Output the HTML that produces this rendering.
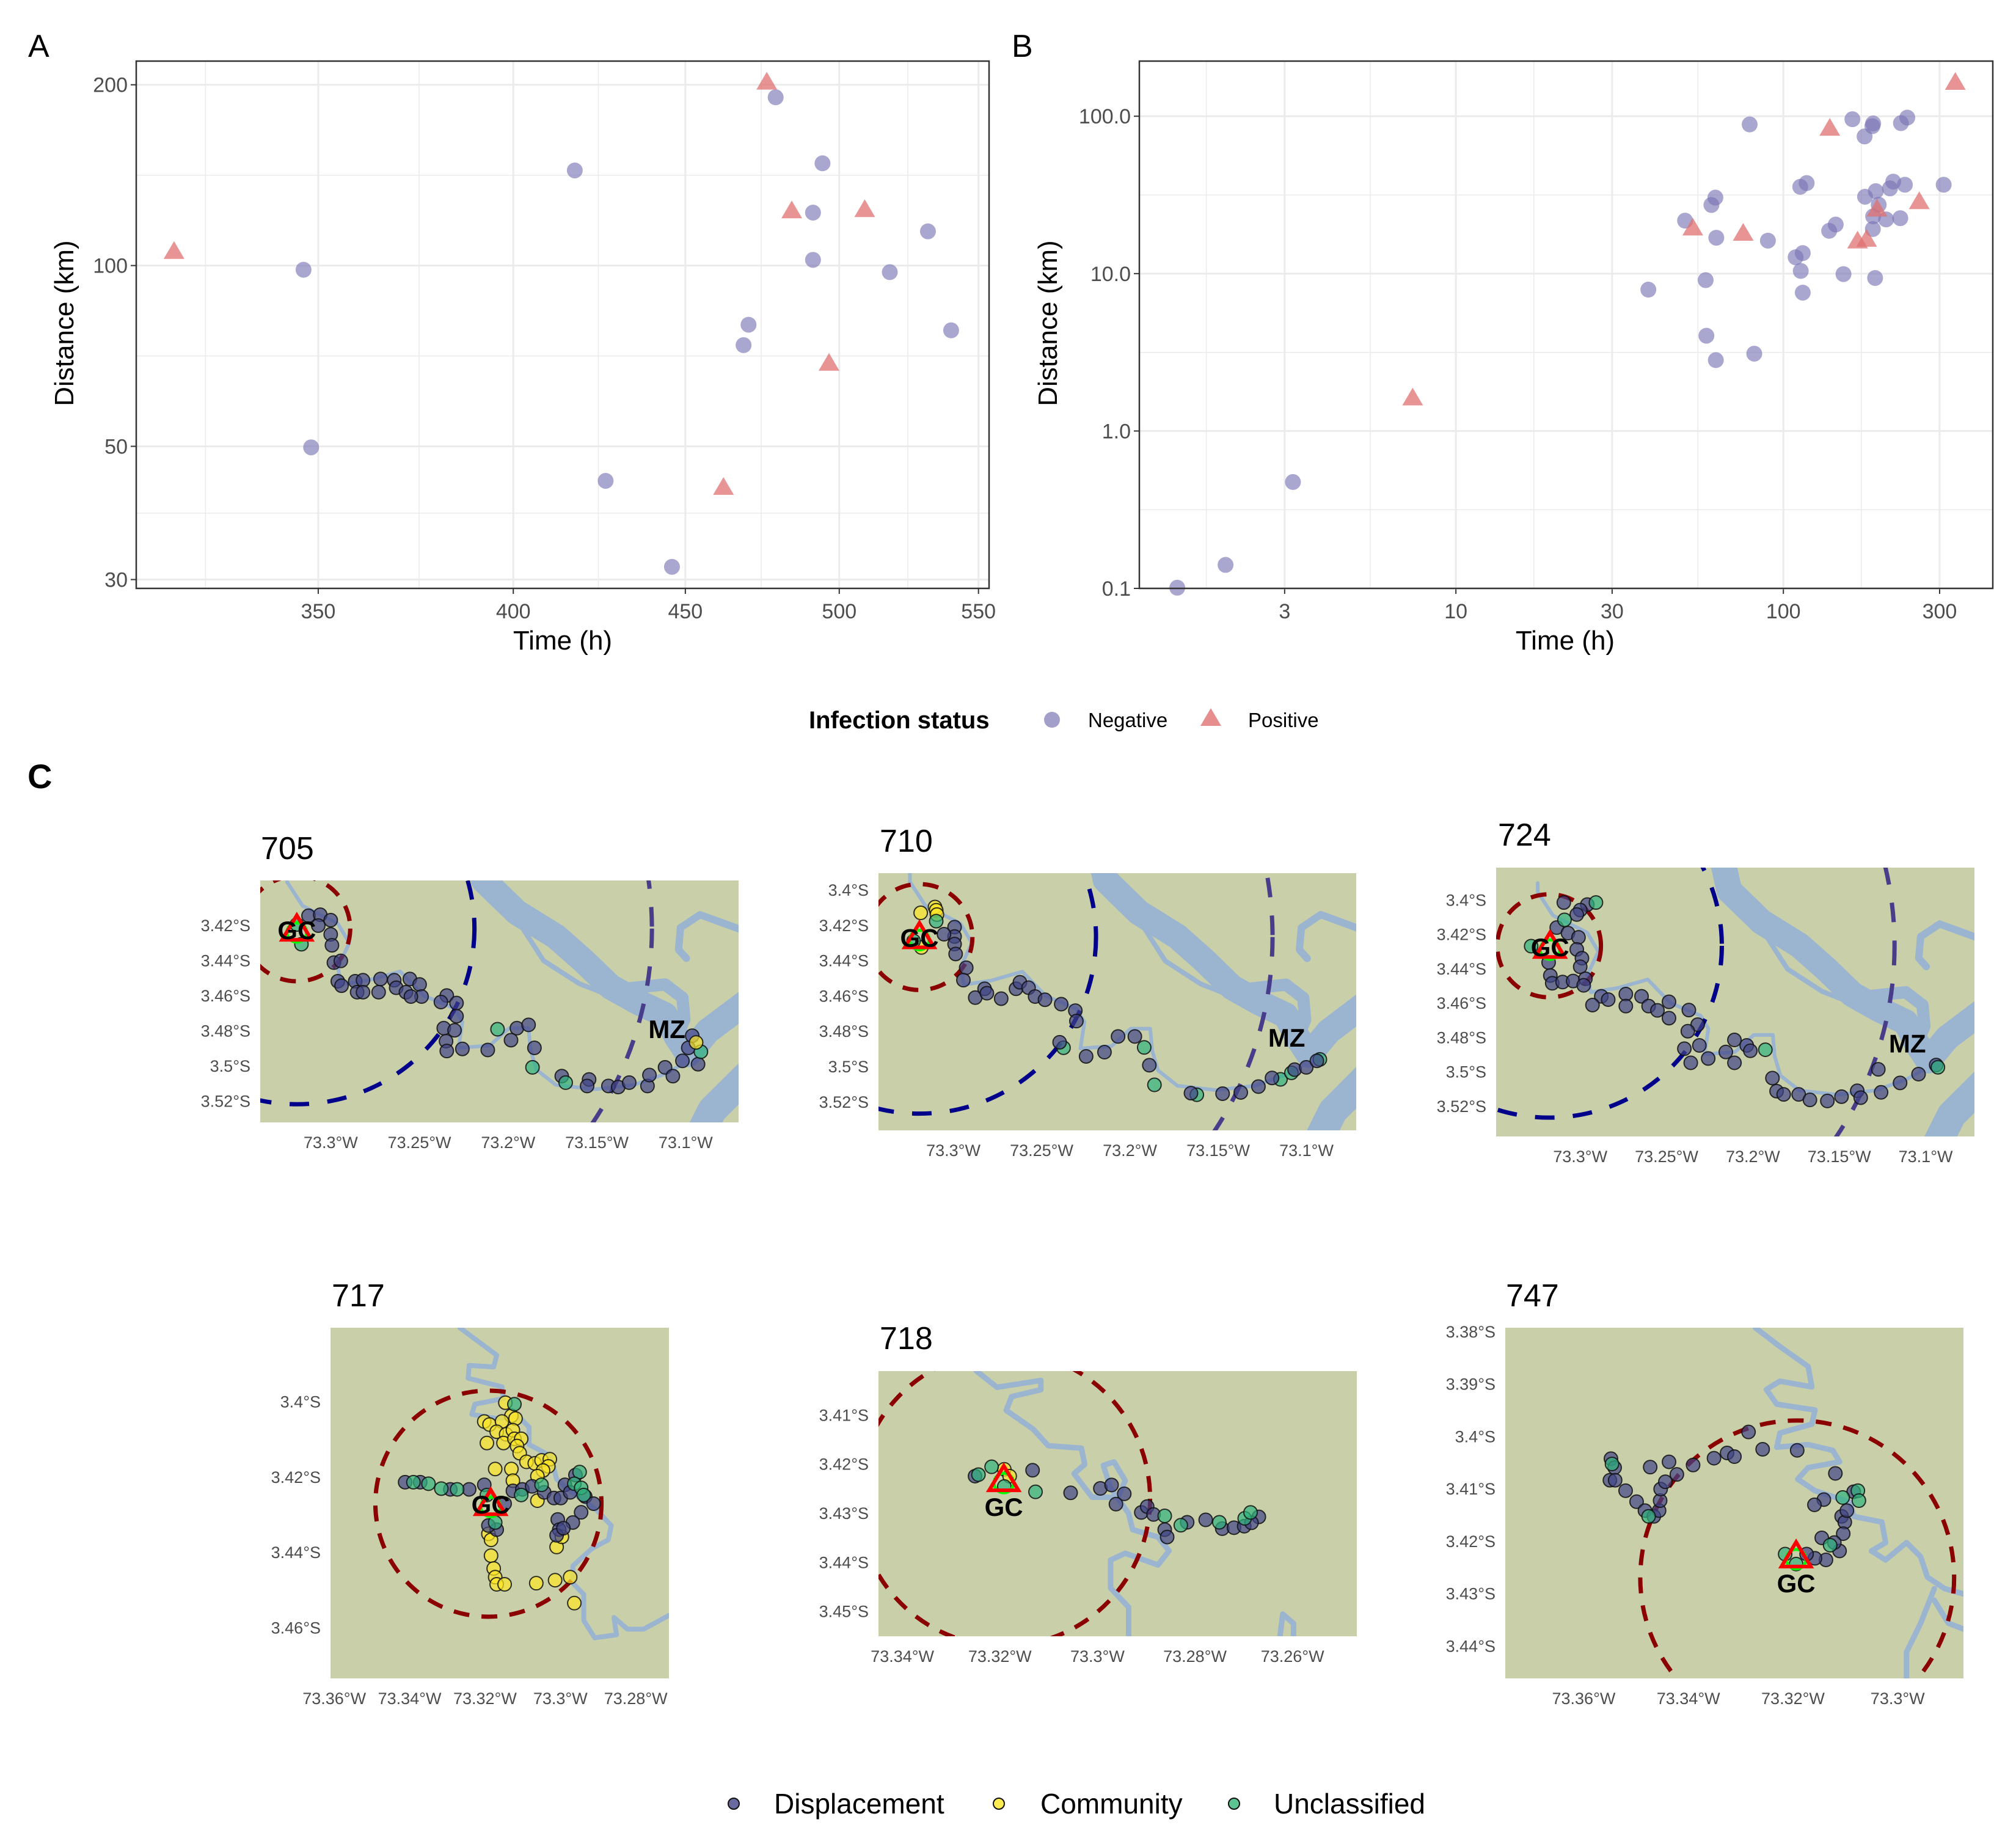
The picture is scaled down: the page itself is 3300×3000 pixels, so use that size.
<!DOCTYPE html>
<html><head><meta charset="utf-8"><title>Mobility and infection figure</title>
<style>body{margin:0;background:#fff}svg{display:block}text{font-family:"Liberation Sans",Arial,sans-serif}</style></head>
<body>
<svg id="fig" xmlns="http://www.w3.org/2000/svg" width="3300" height="3000" viewBox="0 0 3300 3000">
<rect x="0" y="0" width="3300" height="3000" fill="#fff"/>
<text x="46" y="93" font-size="52">A</text>
<text x="1656" y="93" font-size="52">B</text>
<text x="921" y="1063" font-size="44" text-anchor="middle">Time (h)</text>
<text x="2562" y="1063" font-size="44" text-anchor="middle">Time (h)</text>
<text transform="translate(120,529) rotate(-90)" font-size="44" text-anchor="middle">Distance (km)</text>
<text transform="translate(1730,529) rotate(-90)" font-size="44" text-anchor="middle">Distance (km)</text>
<g>
<text x="1324" y="1192" font-size="40" font-weight="bold">Infection status</text>
<circle cx="1722" cy="1178" r="13" fill="#7b77b5" fill-opacity="0.7"/>
<text x="1781" y="1190" font-size="33">Negative</text>
<polygon points="1982,1159 1965,1188 1999,1188" fill="#e07070" fill-opacity="0.8"/>
<text x="2043" y="1190" font-size="33">Positive</text>
</g>
<text x="45" y="1290" font-size="56" font-weight="bold">C</text>
<text x="427" y="1406" font-size="52">705</text>
<text x="1440" y="1394" font-size="52">710</text>
<text x="2452" y="1384" font-size="52">724</text>
<text x="543" y="2138" font-size="52">717</text>
<text x="1440" y="2208" font-size="52">718</text>
<text x="2465" y="2138" font-size="52">747</text>
<g>
<circle cx="1201" cy="2952" r="9" fill="#414487" stroke="#111" stroke-width="2" fill-opacity="0.8"/>
<text x="1267" y="2968" font-size="46">Displacement</text>
<circle cx="1635" cy="2952" r="9" fill="#fde725" stroke="#111" stroke-width="2" fill-opacity="0.8"/>
<text x="1703" y="2968" font-size="46">Community</text>
<circle cx="2020" cy="2952" r="9" fill="#35b779" stroke="#111" stroke-width="2" fill-opacity="0.8"/>
<text x="2085" y="2968" font-size="46">Unclassified</text>
</g>
</svg>
<script>
// ---------- Panel A data ----------
const aNegTime=[346.5,348.3,417.2,426.1,445.9,468.3,469.9,478.7,491.1,491.1,494.3,517.6,531.3,539.8];
const aNegDist=[98.4,49.8,144,43.8,31.5,73.7,79.7,190.6,122.5,102.2,148,97.5,114,78];
const aPosTime=[317.1,475.8,461.9,484,496.5,508.8];
const aPosDist=[105,201,42.5,122.7,68.4,123.3];
const aXTicks=[350,400,450,500,550];
const aXTickLabels=["350","400","450","500","550"];
const aYTicks=[30,50,100,200];
const aYTickLabels=["30","50","100","200"];
const aXMinor=[324,375,424,474,524];
const aYMinor=[38.7,70.7,141.4];
// ---------- Panel B data ----------
const bNegTime=[1.41,1.98,3.18,38.7,50.1,57.9,58.2,60.3,62.0,62.4,62.2,78.9,81.5,89.7,109,114.6,113,114.6,112.6,117.8,138,144.5,152.6,162.5,177,177.6,187,188,187.6,188,191.5,190.6,195.5,205.9,211.6,216.5,227.5,228.6,235,239,308.7];
const bNegDist=[0.101,0.141,0.474,7.91,21.7,9.09,4.03,27.3,30.4,16.9,2.82,88.7,3.10,16.2,12.7,13.5,10.4,7.57,35.6,37.6,18.7,20.5,9.93,95.7,74.4,30.8,86.5,90,19.2,23.1,33.4,9.38,27.4,22.1,34.8,38.4,22.5,90.4,36.7,98,36.7];
const bPosTime=[7.38,52.9,75.4,138.6,168.5,179.6,193.2,260,335];
const bPosDist=[1.59,19.1,17.7,82.2,15.8,16.2,25.2,28.1,161];
const bXTicks=[3,10,30,100,300];
const bXTickLabels=["3","10","30","100","300"];
const bYTicks=[0.1,1,10,100];
const bYTickLabels=["0.1","1.0","10.0","100.0"];
const bXMinor=[1.73,5.48,17.3,54.8,173];
const bYMinor=[0.316,3.16,31.6];
// ---------- Panel C data (lon °W, lat °S, class D/C/U) ----------
const pts705Lon=[73.3125,73.3059,73.3,73.3070,73.3,73.2993,73.2982,73.2943,73.2960,73.2939,73.2862,73.2818,73.2851,73.2818,73.2730,73.2719,73.2642,73.2631,73.2576,73.2554,73.2499,73.2488,73.2548,73.2346,73.2379,73.2291,73.2291,73.2363,73.2302,73.2350,73.2346,73.2258,73.2115,73.1951,73.1885,73.1984,73.1852,73.1698,73.1544,73.1555,73.1435,73.1380,73.1318,73.1215,73.1204,73.1116,73.1072,73.1018,73.0930,73.0985,73.0963,73.3165,73.2060,73.1863,73.1676,73.0914,73.3191,73.0941];
const pts705Lat=[3.4144,3.4138,3.4169,3.42,3.4250,3.4312,3.4411,3.4401,3.4517,3.4542,3.4517,3.4511,3.4579,3.4579,3.4579,3.4504,3.4511,3.4554,3.4579,3.4504,3.4535,3.4604,3.4604,3.4598,3.4635,3.4641,3.4716,3.4784,3.4796,3.4858,3.4914,3.4902,3.4908,3.4784,3.4765,3.4852,3.4896,3.5057,3.5076,3.5113,3.5113,3.5119,3.5094,3.5113,3.5051,3.5007,3.5057,3.4970,3.4989,3.4896,3.4827,3.4306,3.4790,3.5007,3.5094,3.4918,3.4194,3.4865];
const pts705Cls="DDDDDDDDDDDDDDDDDDDDDDDDDDDDDDDDDDDDDDDDDDDDDDDDDDDUUUUUUC";
const pts710Lon=[73.3185,73.3104,73.3097,73.3093,73.3181,73.3097,73.3225,73.2376,73.1919,73.1861,73.1621,73.1147,73.1085,73.0924,73.2993,73.2993,73.3053,73.2993,73.2987,73.2927,73.2943,73.2876,73.2823,73.2810,73.2729,73.2645,73.2623,73.2574,73.2537,73.2481,73.2389,73.2309,73.2303,73.2398,73.2248,73.2144,73.2067,73.1972,73.1890,73.1654,73.1475,73.1372,73.1272,73.1195,73.1067,73.1001,73.0941];
const pts710Lat=[3.4128,3.4095,3.4113,3.4138,3.4324,3.4175,3.4287,3.4892,3.4890,3.5102,3.5158,3.5071,3.5034,3.4958,3.4209,3.4262,3.4249,3.4305,3.4361,3.4439,3.4509,3.4608,3.4558,3.4583,3.4614,3.4558,3.4521,3.4552,3.4602,3.4620,3.4645,3.4682,3.4741,3.4861,3.4941,3.4917,3.4828,3.4828,3.4991,3.5149,3.5152,3.5145,3.5112,3.5063,3.5016,3.5003,3.4966];
const pts710Cls="CCCCCUUUUUUUUUDDDDDDDDDDDDDDDDDDDDDDDDDDDDDDDDD";
const pts724Lon=[73.3095,73.2959,73.3,73.3020,73.3136,73.3071,73.3010,73.3020,73.2990,73.3,73.3183,73.3173,73.3162,73.3102,73.3041,73.2970,73.2980,73.2878,73.2929,73.2838,73.2736,73.2736,73.2645,73.2604,73.2553,73.2486,73.2486,73.2371,73.2320,73.2377,73.2397,73.2310,73.2360,73.2259,73.2157,73.2107,73.2036,73.2107,73.2015,73.1887,73.1863,73.1822,73.1735,73.1670,73.1569,73.1487,73.1396,73.1376,73.1258,73.1148,73.1041,73.1274,73.0939,73.2909,73.3091,73.3284,73.1928,73.0929];
const pts724Lat=[3.4013,3.4025,3.4057,3.4083,3.4159,3.4191,3.4216,3.4286,3.4337,3.4387,3.4362,3.4438,3.4483,3.4476,3.4470,3.4457,3.4495,3.4559,3.4610,3.4578,3.4546,3.4616,3.4559,3.4616,3.4641,3.4591,3.4686,3.4639,3.4724,3.4762,3.4864,3.4845,3.4946,3.4921,3.4883,3.4813,3.4845,3.4946,3.4876,3.5035,3.5111,3.5130,3.5130,3.5162,3.5168,3.5143,3.5109,3.5149,3.5118,3.5063,3.5012,3.4984,3.4959,3.4013,3.4114,3.4267,3.4870,3.4972];
const pts724Cls="DDDDDDDDDDDDDDDDDDDDDDDDDDDDDDDDDDDDDDDDDDDDDDDDDDDDDUUUUU";
const pts717Lon=[73.3146,73.3130,73.3119,73.3202,73.3188,73.3155,73.3169,73.3144,73.3126,73.3195,73.3151,73.3122,73.3104,73.3115,73.3108,73.3090,73.3068,73.3050,73.3028,73.3032,73.3046,73.3061,73.3173,73.3130,73.3126,73.3061,73.3191,73.3184,73.3184,73.3177,73.3173,73.3169,73.3148,73.3064,73.3014,73.2974,73.2963,73.3010,73.2996,73.3412,73.3372,73.3292,73.3242,73.3202,73.3148,73.3126,73.3101,73.3075,73.3043,73.3017,73.2999,73.2988,73.2974,73.2960,73.2934,73.2912,73.2945,73.2967,73.3007,73.3003,73.3010,73.2992,73.3169,73.3191,73.3122,73.3390,73.3350,73.3316,73.3274,73.3195,73.3173,73.3104,73.3050,73.2949,73.2963,73.2945,73.2938];
const pts717Lat=[3.4002,3.4037,3.4044,3.4052,3.4060,3.4052,3.4079,3.4086,3.4075,3.4109,3.4109,3.4098,3.4098,3.4117,3.4136,3.4159,3.4163,3.4155,3.4152,3.4171,3.4182,3.4197,3.4178,3.4178,3.4209,3.4262,3.4350,3.4366,3.4408,3.4442,3.4465,3.4484,3.4484,3.4481,3.4473,3.4465,3.4534,3.4385,3.4358,3.4213,3.4213,3.4232,3.4232,3.4220,3.4270,3.4236,3.4232,3.4224,3.4240,3.4255,3.4255,3.4220,3.4240,3.4194,3.4251,3.4270,3.4293,3.4320,3.4312,3.4339,3.4354,3.4335,3.4339,3.4328,3.4006,3.4213,3.4217,3.4230,3.4232,3.4247,3.4320,3.4247,3.4220,3.4186,3.4217,3.4228,3.4247];
const pts717Cls="CCCCCCCCCCCCCCCCCCCCCCCCCCCCCCCCCCCCCCCDDDDDDDDDDDDDDDDDDDDDDDDDUUUUUUUUUUUUU";
const pts718Lon=[73.3133,73.3055,73.2994,73.2971,73.2945,73.2962,73.2910,73.2898,73.2885,73.2862,73.2857,73.2816,73.2778,73.2744,73.2720,73.2699,73.2669,73.2684,73.3251,73.3191,73.3180,73.3244,73.3217,73.3191,73.3127,73.2862,73.2829,73.2750,73.2698,73.2686];
const pts718Lat=[3.4212,3.4258,3.4249,3.4242,3.4260,3.4281,3.4298,3.4286,3.4302,3.4333,3.4348,3.4318,3.4313,3.4331,3.4329,3.4326,3.4307,3.4319,3.4224,3.4210,3.4224,3.4221,3.4205,3.4245,3.4256,3.4305,3.4324,3.4318,3.4310,3.4298];
const pts718Cls="DDDDDDDDDDDDDDDDDDDCCUUUUUUUUU";
const pts747Lon=[73.3548,73.3541,73.3550,73.3540,73.3520,73.3499,73.3483,73.3466,73.3456,73.3454,73.3453,73.3444,73.3422,73.3473,73.3437,73.3391,73.3351,73.3326,73.3312,73.3285,73.3258,73.3192,73.3119,73.3141,73.3159,73.3107,73.3101,73.3104,73.3111,73.3121,73.3145,73.3137,73.3158,73.3174,73.3097,73.3084,73.3546,73.3476,73.3105,73.3076,73.3074,73.3129,73.3215,73.3194];
const pts747Lat=[3.4042,3.4059,3.4083,3.4083,3.4103,3.4124,3.4141,3.4152,3.4141,3.4122,3.4100,3.4086,3.4072,3.4058,3.4048,3.4054,3.4041,3.4031,3.4038,3.3991,3.4024,3.4026,3.4070,3.4120,3.4130,3.4152,3.4163,3.4185,3.4218,3.4202,3.4193,3.4235,3.4232,3.4224,3.4141,3.4105,3.4052,3.4152,3.4116,3.4103,3.4122,3.4207,3.4224,3.4243];
const pts747Cls="DDDDDDDDDDDDDDDDDDDDDDDDDDDDDDDDDDDDUUUUUUUU";
const gcLon=[73.3191,73.3192,73.3175,73.3185,73.3192,73.3194];
const gcLat=[3.4225,3.4268,3.4273,3.4272,3.4233,3.4229];
const ringLon=[73.3190,73.3192,73.3180,73.3191,73.3192,73.3192];
const ringLat=[3.4217,3.4265,3.4265,3.4270,3.4270,3.4269];

const NS='http://www.w3.org/2000/svg';
const svg=document.getElementById('fig');
function mk(tag,attrs,parent){const e=document.createElementNS(NS,tag);for(const k in attrs)e.setAttribute(k,attrs[k]);(parent||svg).appendChild(e);return e;}
function logScale(d0,d1,r0,r1){const l0=Math.log10(d0),l1=Math.log10(d1);return v=>r0+(Math.log10(v)-l0)/(l1-l0)*(r1-r0);}

function scatterPanel(key,box,xDom,yDom,xT,xTL,yT,yTL,xMin,yMin,negX,negY,posX,posY){
  const [bx,by,bw,bh]=box;
  const sx=logScale(xDom[0],xDom[1],bx,bx+bw), sy=logScale(yDom[0],yDom[1],by+bh,by);
  const g=mk('g',{});
  
  
  xMin.forEach(v=>{const x=sx(v);if(x<bx||x>bx+bw)return;const l=mk('line',{x1:x,x2:x,y1:by,y2:by+bh,stroke:'#ebebeb','stroke-width':1.5},g);
    
    });
  yMin.forEach(v=>{const y=sy(v);if(y<by||y>by+bh)return;const l=mk('line',{x1:bx,x2:bx+bw,y1:y,y2:y,stroke:'#ebebeb','stroke-width':1.5},g);
    
    });
  xT.forEach((v,i)=>{const x=sx(v);const l=mk('line',{x1:x,x2:x,y1:by,y2:by+bh,stroke:'#ebebeb','stroke-width':3},g);
    
    
    const t=mk('line',{x1:x,x2:x,y1:by+bh,y2:by+bh+9,stroke:'#333','stroke-width':2},g);
    
    
    const tx=mk('text',{x:x,y:by+bh+49,'font-size':34,'text-anchor':'middle',fill:'#4d4d4d'},g);tx.textContent=xTL[i];
    
    });
  yT.forEach((v,i)=>{const y=sy(v);const l=mk('line',{x1:bx,x2:bx+bw,y1:y,y2:y,stroke:'#ebebeb','stroke-width':3},g);
    
    
    const t=mk('line',{x1:bx-9,x2:bx,y1:y,y2:y,stroke:'#333','stroke-width':2},g);
    
    
    const tx=mk('text',{x:bx-14,y:y+12,'font-size':34,'text-anchor':'end',fill:'#4d4d4d'},g);tx.textContent=yTL[i];
    
    });
  negX.forEach((v,i)=>{const c=mk('circle',{cx:sx(v),cy:sy(negY[i]),r:13,fill:'#7b77b5','fill-opacity':0.65},g);
    
    });
  posX.forEach((v,i)=>{const x=sx(v),y=sy(posY[i]);const p=mk('polygon',{points:`${x},${y-19} ${x-17},${y+10} ${x+17},${y+10}`,fill:'#e07070','fill-opacity':0.75},g);
    
    });
  const r=mk('rect',{x:bx,y:by,width:bw,height:bh,fill:'none',stroke:'#333','stroke-width':2.5},g);
  
  
}
scatterPanel('panel-a',[223,100,1396,863],[309,554],[29,219],aXTicks,aXTickLabels,aYTicks,aYTickLabels,aXMinor,aYMinor,aNegTime,aNegDist,aPosTime,aPosDist);
scatterPanel('panel-b',[1865,100,1397,863],[1.08,436],[0.1,224],bXTicks,bXTickLabels,bYTicks,bYTickLabels,bXMinor,bYMinor,bNegTime,bNegDist,bPosTime,bPosDist);

// ---------- Panel C maps ----------
const topRivers=[
 {w:42,pts:[[73.2180,3.375],[73.2137,3.3943],[73.1951,3.4125],[73.1731,3.4262],[73.1577,3.4399],[73.1424,3.4548],[73.1270,3.4635],[73.1116,3.4709],[73.1050,3.4834],[73.0985,3.4933],[73.0875,3.4800],[73.0650,3.4630]]},
 {w:20,pts:[[73.1350,3.4560],[73.1116,3.4535],[73.1018,3.4610],[73.1007,3.4734],[73.1050,3.4834]]},
 {w:8,pts:[[73.1960,3.4150],[73.1800,3.4400],[73.1600,3.4530],[73.1424,3.4600]]},
 {w:12,pts:[[73.0650,3.4237],[73.0919,3.4138],[73.1029,3.4212],[73.1040,3.4337],[73.0996,3.4386]]},
 {w:48,pts:[[73.0950,3.5450],[73.0850,3.5250],[73.0600,3.5000]]},
 {w:6,pts:[[73.3246,3.3900],[73.3246,3.3952],[73.3158,3.4088],[73.2960,3.4188],[73.2895,3.4299],[73.2960,3.4436],[73.2939,3.4535],[73.2785,3.4511],[73.2609,3.4461],[73.2477,3.4598],[73.2302,3.4672],[73.2258,3.4747],[73.2280,3.4896],[73.2104,3.4883],[73.1995,3.4784],[73.1885,3.4784],[73.1874,3.4908],[73.1841,3.5020],[73.1731,3.5107],[73.1512,3.5132],[73.1292,3.5107],[73.1116,3.5045],[73.0985,3.4970]]}
];
const river717=[{w:8,pts:[[73.3267,3.3803],[73.3169,3.3876],[73.3177,3.3907],[73.3242,3.3903],[73.3245,3.3937],[73.3155,3.3960],[73.3151,3.3991],[73.3227,3.4006],[73.3235,3.4033],[73.3169,3.4044],[73.3112,3.4037],[73.3083,3.4067],[73.3083,3.4113],[73.3025,3.4144],[73.3010,3.4205],[73.2974,3.4236],[73.2902,3.4289],[73.2865,3.4328],[73.2873,3.4366],[73.2916,3.4389],[73.2967,3.4435],[73.2967,3.4481],[73.2938,3.4511],[73.2938,3.4580],[73.2909,3.4626],[73.2851,3.4618],[73.2858,3.4572],[73.2822,3.4603],[73.2779,3.4603],[73.2700,3.4560]]}];
const river718=[{w:9,pts:[[73.3260,3.3990],[73.3248,3.4010],[73.3206,3.4043],[73.3116,3.4029],[73.3116,3.4048],[73.3176,3.4062],[73.3187,3.4090],[73.3131,3.4129],[73.3101,3.4162],[73.3033,3.4167],[73.3026,3.4200],[73.3048,3.4219],[73.3011,3.4267],[73.2958,3.4267],[73.2943,3.4233],[73.2966,3.4195],[73.2988,3.4202],[73.2973,3.4248],[73.2936,3.4300],[73.2928,3.4333],[73.2876,3.4348],[73.2853,3.4376],[73.2876,3.4405],[73.2943,3.4381],[73.2973,3.4395],[73.2973,3.4452],[73.2936,3.4491],[73.2936,3.4570]]},
 {w:9,pts:[[73.2628,3.4570],[73.2620,3.4505],[73.2598,3.4524],[73.2598,3.4570]]}];
const river747=[{w:9,pts:[[73.3280,3.3770],[73.3272,3.3792],[73.3225,3.3828],[73.3171,3.3866],[73.3164,3.3905],[73.3225,3.3894],[73.3251,3.3910],[73.3231,3.3938],[73.3158,3.3949],[73.3164,3.3976],[73.3225,3.3993],[73.3231,3.4020],[73.3171,3.4015],[73.3124,3.4026],[73.3111,3.4048],[73.3171,3.4059],[73.3191,3.4081],[73.3158,3.4103],[73.3091,3.4125],[73.3084,3.4152],[73.3030,3.4163],[73.3023,3.4202],[73.3050,3.4218],[73.3023,3.4235],[73.2983,3.4202],[73.2956,3.4229],[73.2943,3.4268],[73.2910,3.4290],[73.2874,3.4300]]},
 {w:9,pts:[[73.2930,3.4312],[73.2903,3.4356],[73.2874,3.4367]]},
 {w:9,pts:[[73.2930,3.4290],[73.2956,3.4356],[73.2983,3.4411],[73.2983,3.4480]]}];

const mapGeo=[
 {id:'705',box:[426,1441,783,396],lonL:73.3397,latT:3.3943,sx:2905,sy:2875,lon:pts705Lon,lat:pts705Lat,cls:pts705Cls,rivers:topRivers,top:true,latT0:[3.42,3.44,3.46,3.48,3.5,3.52],lonT0:[73.3,73.25,73.2,73.15,73.1],mz:[73.121,3.484]},
 {id:'710',box:[1438,1429,782,421],lonL:73.3424,latT:3.3903,sx:2890,sy:2890,lon:pts710Lon,lat:pts710Lat,cls:pts710Cls,rivers:topRivers,top:true,latT0:[3.4,3.42,3.44,3.46,3.48,3.5,3.52],lonT0:[73.3,73.25,73.2,73.15,73.1],mz:[73.1217,3.4886]},
 {id:'724',box:[2449,1420,783,440],lonL:73.3487,latT:3.3810,sx:2827,sy:2812,lon:pts724Lon,lat:pts724Lat,cls:pts724Cls,rivers:topRivers,top:true,latT0:[3.4,3.42,3.44,3.46,3.48,3.5,3.52],lonT0:[73.3,73.25,73.2,73.15,73.1],mz:[73.1213,3.4885]},
 {id:'717',box:[541,2173,554,574],lonL:73.3610,latT:3.3803,sx:6169,sy:6167,lon:pts717Lon,lat:pts717Lat,cls:pts717Cls,rivers:river717,top:false,latT0:[3.4,3.42,3.44,3.46],lonT0:[73.36,73.34,73.32,73.3,73.28],gcMid:true},
 {id:'718',box:[1438,2244,783,434],lonL:73.3449,latT:3.4010,sx:7982,sy:8035,lon:pts718Lon,lat:pts718Lat,cls:pts718Cls,rivers:river718,top:false,latT0:[3.41,3.42,3.43,3.44,3.45],lonT0:[73.34,73.32,73.3,73.28,73.26]},
 {id:'747',box:[2464,2173,750,574],lonL:73.3750,latT:3.3792,sx:8563,sy:8577,lon:pts747Lon,lat:pts747Lat,cls:pts747Cls,rivers:river747,top:false,latT0:[3.38,3.39,3.4,3.41,3.42,3.43,3.44],lonT0:[73.36,73.34,73.32,73.3]}
];
const clsFill={D:'#414487',C:'#fde725',U:'#2fb47c'};
const clsName={D:'displacement-point',C:'community-point',U:'unclassified-point'};

mapGeo.forEach((m,mi)=>{
  const [bx,by,bw,bh]=m.box;
  const X=lon=>bx+(m.lonL-lon)*m.sx, Y=lat=>by+(lat-m.latT)*m.sy;
  const g=mk('g',{});
  
  
  const cp=mk('clipPath',{id:'clip'+m.id},g);
  mk('rect',{x:bx,y:by,width:bw,height:bh},cp);
  const bg=mk('rect',{x:bx,y:by,width:bw,height:bh,fill:'#c9d0a9'},g);
  
  
  const inner=mk('g',{'clip-path':`url(#clip${m.id})`},g);
  
  
  m.rivers.forEach(rv=>{
    const d=rv.pts.map((p,i)=>(i?'L':'M')+X(p[0]).toFixed(1)+','+Y(p[1]).toFixed(1)).join(' ');
    const pth=mk('path',{d:d,fill:'none',stroke:'#9bb4cf','stroke-width':rv.w,'stroke-linejoin':'round','stroke-linecap':'round'},inner);
    
    
  });
  const cx=X(ringLon[mi]),cy=Y(ringLat[mi]);
  if(m.top){
    const p1=mk('ellipse',{cx:cx,cy:cy,rx:0.2*m.sx,ry:0.2*m.sy,fill:'none',stroke:'#483d8b','stroke-width':7,'stroke-dasharray':'32 30'},inner);
    
    
    const p2=mk('ellipse',{cx:cx,cy:cy,rx:0.1*m.sx,ry:0.1*m.sy,fill:'none',stroke:'#00008b','stroke-width':7,'stroke-dasharray':'32 30'},inner);
    
    
  }
  const rr=mk('ellipse',{cx:cx,cy:cy,rx:0.03*m.sx,ry:0.03*m.sy,fill:'none',stroke:'#8b0000','stroke-width':7,'stroke-dasharray':'26 20'},inner);
  
  
  m.lon.forEach((lo,i)=>{
    const k=m.cls[i];
    const c=mk('circle',{cx:X(lo),cy:Y(m.lat[i]),r:11,fill:clsFill[k],'fill-opacity':0.7,stroke:'#111','stroke-opacity':0.85,'stroke-width':2},inner);
    
    
  });
  const gx=X(gcLon[mi]),gy=Y(gcLat[mi]);
  const gcc=mk('circle',{cx:gx,cy:gy+4,r:16,fill:'none',stroke:'#00ff00','stroke-width':5},inner);
  
  
  const tri=mk('polygon',{points:`${gx},${gy-24} ${gx-24},${gy+16} ${gx+24},${gy+16}`,fill:'none',stroke:'#ff0000','stroke-width':6},inner);
  
  
  const below=(m.id==='718'||m.id==='747');
  const gt=mk('text',{x:gx,y:below?gy+58:gy+15,'font-size':42,'font-weight':'bold','text-anchor':'middle',fill:'#000'},inner);
  gt.textContent='GC';
  
  
  if(m.mz){
    const mz=mk('text',{x:X(m.mz[0]),y:Y(m.mz[1]),'font-size':42,'font-weight':'bold',fill:'#000'},inner);
    mz.textContent='MZ';
    
    
  }
  m.latT0.forEach(v=>{
    const t=mk('text',{x:bx-16,y:Y(v)+9,'font-size':27,'text-anchor':'end',fill:'#4d4d4d'},g);
    t.textContent=String(+v)+'°S';
    
    
  });
  m.lonT0.forEach(v=>{
    const t=mk('text',{x:X(v),y:by+bh+42,'font-size':27,'text-anchor':'middle',fill:'#4d4d4d'},g);
    t.textContent=String(+v)+'°W';
    
    
  });
});
</script>
</body></html>
